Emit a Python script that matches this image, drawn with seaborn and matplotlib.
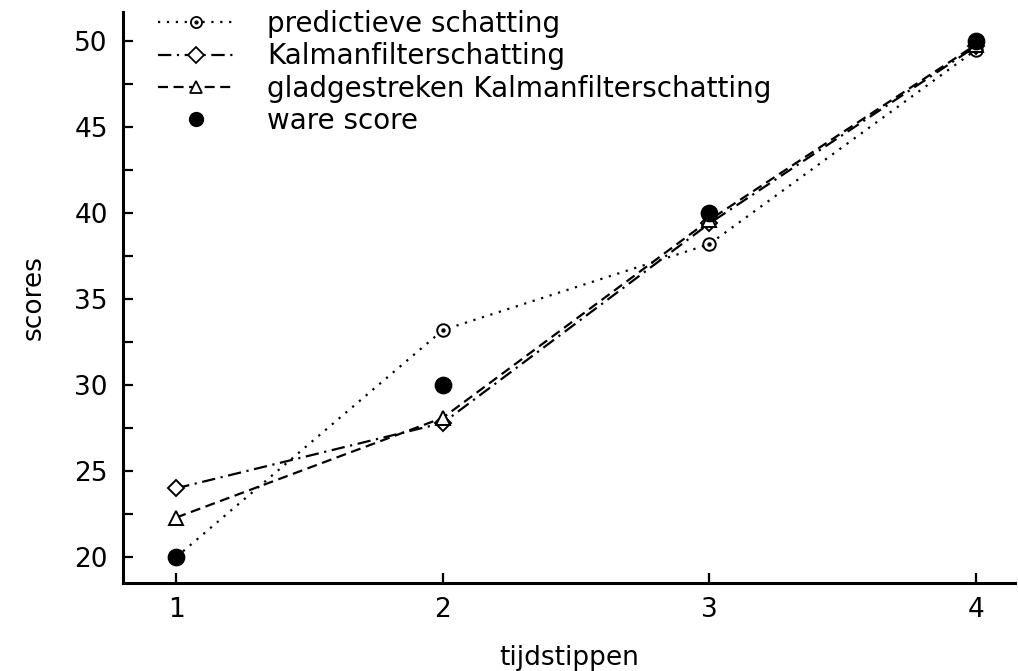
import numpy as np
import pandas as pd
import matplotlib
matplotlib.use("Agg")
import matplotlib.pyplot as plt
from matplotlib.ticker import MultipleLocator
from matplotlib.lines import Line2D
from matplotlib.legend_handler import HandlerTuple
import seaborn as sns

# Data
tijdstippen = [1, 2, 3, 4]
predictief = [20.0, 33.2, 38.2, 49.5]
kalman = [24.0, 27.8, 39.4, 49.7]
gladgestreken = [22.3, 28.1, 39.6, 49.8]
ware_score = [20, 30, 40, 50]

labels = ["predictieve schatting", "Kalmanfilterschatting",
          "gladgestreken Kalmanfilterschatting", "ware score"]

sns.set_theme(style="ticks")
plt.rcParams["font.family"] = ["DejaVu Sans"]
plt.rcParams["text.color"] = "black"
plt.rcParams["axes.labelcolor"] = "black"
plt.rcParams["xtick.color"] = "black"
plt.rcParams["ytick.color"] = "black"

FS = 19

fig = plt.figure(figsize=(10.18, 6.71), dpi=100)
ax = fig.add_axes([0.1208, 0.1311, 0.997 - 0.1208, 0.982 - 0.1311])

lw = 1.6
ls_pred = (0, (1, 3))
ls_kal = (0, (6, 2.5, 1, 2.5))
ls_glad = (0, (4.5, 2.5))
common = dict(color="black", linewidth=lw, markeredgecolor="black",
              markerfacecolor="white", markeredgewidth=1.4, ax=ax)

sns.lineplot(x=tijdstippen, y=predictief, linestyle=ls_pred,
             marker="o", markersize=9, **common)
# centre dot of the circle markers
ax.plot(tijdstippen, predictief, linestyle="none", marker="o",
        markersize=2.2, color="black")
sns.lineplot(x=tijdstippen, y=kalman, linestyle=ls_kal,
             marker="D", markersize=8.5, **common)
sns.lineplot(x=tijdstippen, y=gladgestreken, linestyle=ls_glad,
             marker="^", markersize=9.5, **common)
sns.scatterplot(x=tijdstippen, y=ware_score, color="black", s=140,
                edgecolor="black", ax=ax, zorder=5)

ax.set_xlim(0.80, 4.146)
ax.set_ylim(18.49, 51.69)
ax.set_xticks(tijdstippen)
ax.yaxis.set_major_locator(MultipleLocator(5))
ax.yaxis.set_minor_locator(MultipleLocator(2.5))
ax.tick_params(axis="both", which="both", direction="in", length=7,
               width=1.6, labelsize=FS, color="black", labelcolor="black")
ax.tick_params(axis="y", pad=11)
ax.tick_params(axis="x", pad=10)
for side in ["top", "right"]:
    ax.spines[side].set_visible(False)
for side in ["left", "bottom"]:
    ax.spines[side].set_linewidth(2.2)
    ax.spines[side].set_color("black")

ax.set_xlabel("tijdstippen", fontsize=FS, labelpad=16)
ax.set_ylabel("scores", fontsize=FS, labelpad=20)

# Legend
mk = dict(markerfacecolor="white", markeredgecolor="black",
          markeredgewidth=1.3)
h_pred = (Line2D([], [], color="black", linewidth=lw, linestyle=ls_pred,
                 marker="o", markersize=8, **mk),
          Line2D([], [], linestyle="none", marker="o", markersize=2,
                 color="black"))
h_kal = Line2D([], [], color="black", linewidth=lw, linestyle=ls_kal,
               marker="D", markersize=8, **mk)
h_glad = Line2D([], [], color="black", linewidth=lw, linestyle=ls_glad,
                marker="^", markersize=8, **mk)
h_ware = Line2D([], [], linestyle="none", marker="o", markersize=10,
                color="black")
ax.legend([h_pred, h_kal, h_glad, h_ware], labels, loc="upper left",
          bbox_to_anchor=(0.018, 1.038), frameon=False, fontsize=20,
          handlelength=2.7, handletextpad=1.2, labelspacing=0.16,
          borderpad=0.2,
          handler_map={tuple: HandlerTuple(ndivide=1, pad=0)})

fig.savefig("out.png", dpi=100, facecolor="white")
